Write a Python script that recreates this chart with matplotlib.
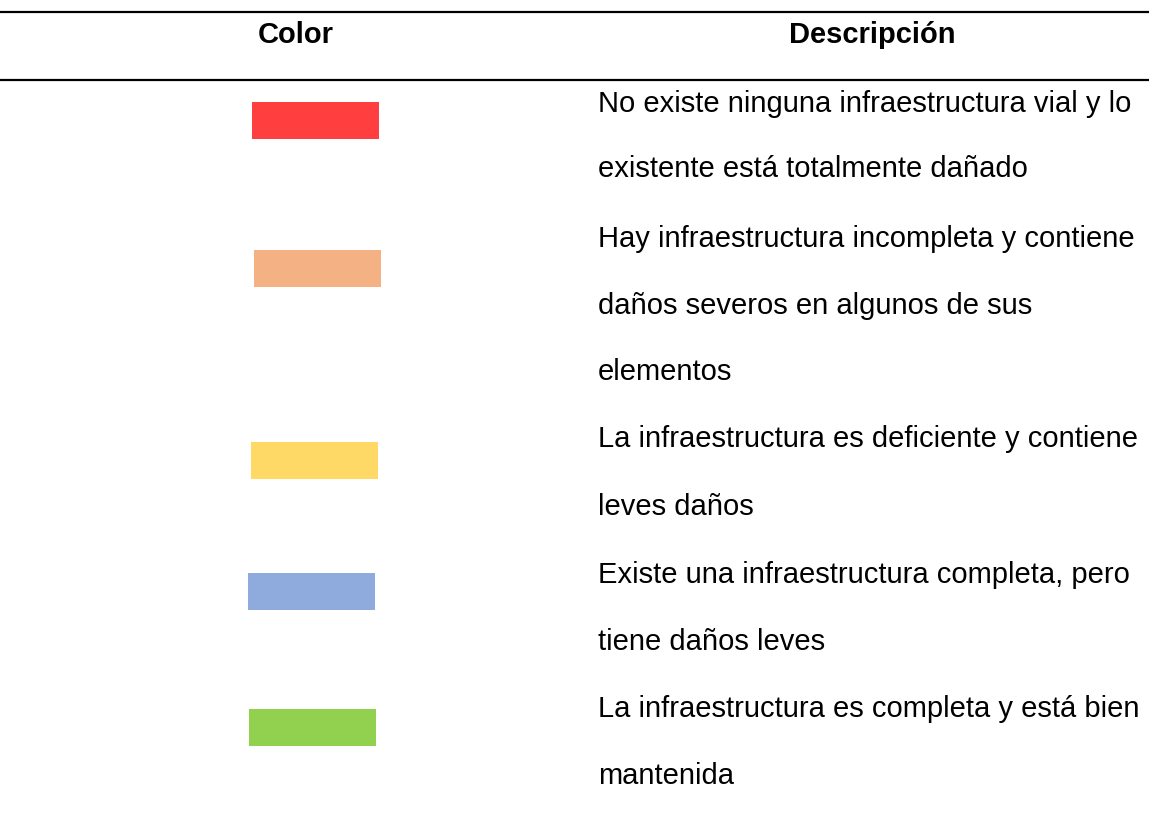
import matplotlib
matplotlib.use("Agg")
import matplotlib.pyplot as plt
from matplotlib.patches import Rectangle

# ---- data ----
headers = ["Color", "Descripción"]
colors = ["#FF3F3F", "#F4B183", "#FFD966", "#8FAADC", "#92D050"]
descriptions = [
    ["No existe ninguna infraestructura vial y lo", "existente está totalmente dañado"],
    ["Hay infraestructura incompleta y contiene", "daños severos en algunos de sus", "elementos"],
    ["La infraestructura es deficiente y contiene", "leves daños"],
    ["Existe una infraestructura completa, pero", "tiene daños leves"],
    ["La infraestructura es completa y está bien", "mantenida"],
]

# ---- layout (pixel space) ----
W, H = 1149, 819
fig = plt.figure(figsize=(W / 100, H / 100), dpi=100)
ax = fig.add_axes([0, 0, 1, 1])
ax.set_xlim(0, W)
ax.set_ylim(H, 0)
ax.axis("off")

font = "Liberation Sans"
fs = 21

# header rules
ax.plot([0, W], [12, 12], color="black", lw=1.6, solid_capstyle="butt")
ax.plot([0, W], [80, 80], color="black", lw=1.6, solid_capstyle="butt")
ax.text(296, 43, headers[0], ha="center", va="baseline", fontsize=fs,
        fontweight="bold", family=font)
ax.text(872, 43, headers[1], ha="center", va="baseline", fontsize=fs,
        fontweight="bold", family=font)

# swatches
swatch_x = [252, 254, 251, 248, 249]
swatch_y = [102, 250, 442, 573, 709]
sw_w, sw_h = 127, 37
for c, x0, y0 in zip(colors, swatch_x, swatch_y):
    ax.add_patch(Rectangle((x0, y0), sw_w, sw_h, facecolor=c, edgecolor="none"))

# descriptions
first_baselines = [112, 247, 447, 583, 717]
line_step = [65, 66.5, 68, 67.5, 66.5]
text_x = 598
for lines, b0, step in zip(descriptions, first_baselines, line_step):
    for i, ln in enumerate(lines):
        ax.text(text_x, b0 + i * step, ln, ha="left", va="baseline",
                fontsize=fs, family=font, color="black")

fig.savefig("out.png", dpi=100)
